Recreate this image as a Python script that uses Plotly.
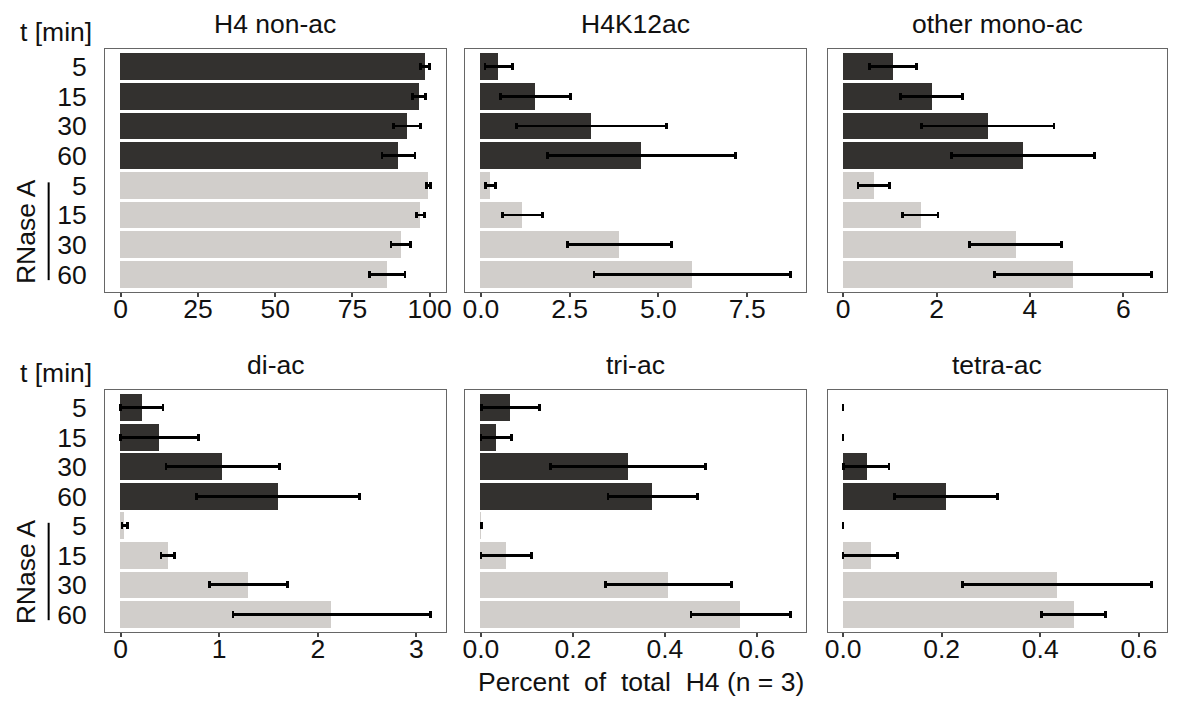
import plotly.graph_objects as go

# ---- data ----
time_labels = ["5", "15", "30", "60", "5", "15", "30", "60"]
treatment = ["ctrl"] * 4 + ["RNase A"] * 4
panel_titles = ["H4 non-ac", "H4K12ac", "other mono-ac", "di-ac", "tri-ac", "tetra-ac"]

h4_nonac_mean = [98.5, 96.6, 92.6, 89.9, 99.5, 97.0, 90.7, 86.3]
h4_nonac_sd = [1.4, 2.15, 4.4, 5.35, 0.65, 1.25, 3.2, 5.75]

h4k12ac_mean = [0.50, 1.53, 3.11, 4.53, 0.27, 1.18, 3.91, 5.95]
h4k12ac_sd = [0.385, 0.985, 2.115, 2.65, 0.135, 0.565, 1.46, 2.765]

mono_mean = [1.07, 1.90, 3.10, 3.85, 0.655, 1.65, 3.69, 4.92]
mono_sd = [0.505, 0.665, 1.415, 1.525, 0.335, 0.38, 0.99, 1.685]

di_mean = [0.215, 0.395, 1.035, 1.595, 0.04, 0.48, 1.295, 2.14]
di_sd = [0.215, 0.395, 0.575, 0.825, 0.027, 0.07, 0.395, 1.0]

tri_mean = [0.064, 0.033, 0.32, 0.374, 0.0005, 0.055, 0.408, 0.565]
tri_sd = [0.063, 0.033, 0.168, 0.0975, 0.0005, 0.055, 0.1375, 0.108]

tetra_mean = [0.0, 0.0, 0.047, 0.209, 0.0, 0.055, 0.434, 0.468]
tetra_sd = [0.0, 0.0, 0.046, 0.104, 0.0, 0.055, 0.192, 0.065]

x_tickvals = [
    [0, 25, 50, 75, 100],
    [0, 2.5, 5.0, 7.5],
    [0, 2, 4, 6],
    [0, 1, 2, 3],
    [0, 0.2, 0.4, 0.6],
    [0, 0.2, 0.4, 0.6],
]
x_ticktext = [
    ["0", "25", "50", "75", "100"],
    ["0.0", "2.5", "5.0", "7.5"],
    ["0", "2", "4", "6"],
    ["0", "1", "2", "3"],
    ["0.0", "0.2", "0.4", "0.6"],
    ["0.0", "0.2", "0.4", "0.6"],
]

means = [h4_nonac_mean, h4k12ac_mean, mono_mean, di_mean, tri_mean, tetra_mean]
sds = [h4_nonac_sd, h4k12ac_sd, mono_sd, di_sd, tri_sd, tetra_sd]

# ---- styling ----
W, H = 1178, 704
DARK = "#33312f"
LIGHT = "#d1cecb"
FONT = "Liberation Sans, Arial, sans-serif"
TXT = "#111111"
FS = 26.5

col_px = [(103, 446), (466, 809), (831, 1173)]
row_px = [(49, 292), (390, 632)]

fig = go.Figure()
ypos = list(range(len(time_labels)))
colors = [DARK if t == "ctrl" else LIGHT for t in treatment]

for i in range(6):
    r, c = divmod(i, 3)
    xa = "x" if i == 0 else f"x{i+1}"
    ya = "y" if i == 0 else f"y{i+1}"
    fig.add_trace(go.Bar(
        x=means[i], y=ypos, orientation="h", width=0.9,
        marker=dict(color=colors, line=dict(width=0)),
        error_x=dict(type="data", array=sds[i], color="black", thickness=2.8, width=3.3),
        xaxis=xa, yaxis=ya, showlegend=False,
    ))
    hi = max(m + s for m, s in zip(means[i], sds[i]))
    pad = hi * 0.05
    x0, x1 = col_px[c]
    y0, y1 = row_px[r]
    xkey = "xaxis" if i == 0 else f"xaxis{i+1}"
    ykey = "yaxis" if i == 0 else f"yaxis{i+1}"
    fig.layout[xkey] = dict(
        domain=[x0 / W, x1 / W], anchor=ya, range=[-pad, hi + pad],
        showgrid=False, zeroline=False, showline=True, mirror=True,
        linecolor="#666666", linewidth=1.3,
        ticks="outside", ticklen=3.5, tickwidth=2, tickcolor="#444444",
        tickvals=x_tickvals[i], ticktext=x_ticktext[i], ticklabelstandoff=-10,
        tickfont=dict(family=FONT, size=FS, color=TXT),
    )
    fig.layout[ykey] = dict(
        domain=[1 - y1 / H, 1 - y0 / H], anchor=xa, range=[7.6, -0.6],
        showgrid=False, zeroline=False, showline=True, mirror=True,
        linecolor="#666666", linewidth=1.3,
        ticks="", tickvals=ypos, ticktext=time_labels,
        showticklabels=(c == 0), ticklabelstandoff=12,
        tickfont=dict(family=FONT, size=FS, color=TXT),
    )
    fig.add_annotation(
        text=panel_titles[i], xref="paper", yref="paper",
        x=(x0 + x1) / 2 / W, y=1 - (y0 - 25) / H,
        showarrow=False, xanchor="center", yanchor="middle",
        font=dict(family=FONT, size=FS, color=TXT),
    )

for (y0, y1) in row_px:
    fig.add_annotation(text="t [min]", xref="paper", yref="paper",
                       x=53 / W, y=1 - (y0 - 17) / H, showarrow=False,
                       xanchor="center", yanchor="middle",
                       font=dict(family=FONT, size=FS, color=TXT))
    span = (y1 - y0) / 8.2
    ly0 = y0 + span * 4.5
    ly1 = y0 + span * 7.8
    fig.add_annotation(text="RNase A", xref="paper", yref="paper",
                       x=23 / W, y=1 - ((ly0 + ly1) / 2) / H, textangle=-90,
                       showarrow=False, xanchor="center", yanchor="middle",
                       font=dict(family=FONT, size=FS, color=TXT))
    fig.add_shape(type="line", xref="paper", yref="paper",
                  x0=46 / W, x1=46 / W, y0=1 - ly0 / H, y1=1 - ly1 / H,
                  line=dict(color="black", width=2))

fig.add_annotation(text="Percent\u00a0 of\u00a0 total\u00a0 H4 (n = 3)",
                   xref="paper", yref="paper", x=643 / W, y=1 - 682 / H,
                   showarrow=False, xanchor="center", yanchor="middle",
                   font=dict(family=FONT, size=FS, color=TXT))

fig.update_layout(
    width=W, height=H, margin=dict(l=0, r=0, t=0, b=0),
    paper_bgcolor="white", plot_bgcolor="white", bargap=0,
)

fig.write_html("out.html")
